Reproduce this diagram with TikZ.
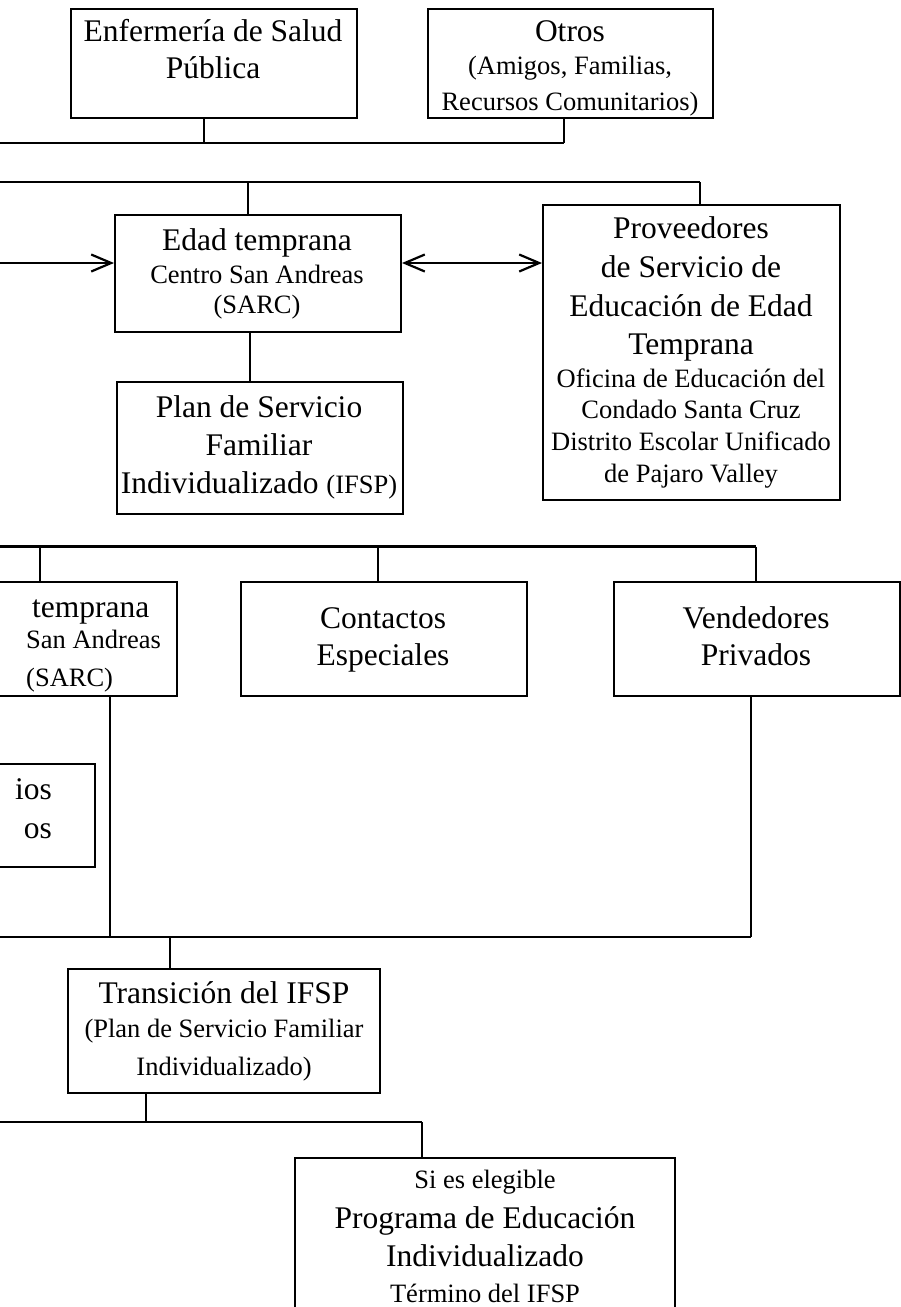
\documentclass[tikz,border=0pt]{standalone}
\usepackage{fontspec}
\setmainfont{Liberation Serif}
\usetikzlibrary{arrows.meta}
\newcommand\fsbig{\fontsize{31.5}{38}\selectfont}
\newcommand\fssmall{\fontsize{26.5}{32}\selectfont}
\tikzset{
  box/.style={draw, line width=2pt, inner sep=0pt},
  conn/.style={line width=2.2pt},
  arr/.style={conn, -{Straight Barb[length=20pt,width=17pt]}},
  darr/.style={conn, {Straight Barb[length=20pt,width=17pt]}-{Straight Barb[length=20pt,width=17pt]}},
  bt/.style={inner sep=0pt, anchor=base, font=\fsbig},
  st/.style={inner sep=0pt, anchor=base, font=\fssmall},
}
\begin{document}
\begin{tikzpicture}[x=1pt, y=-1pt]
\useasboundingbox (0,0) rectangle (901,1307);
\clip (0,0) rectangle (901,1307);

% boxes
\node[box, minimum width=286pt, minimum height=109pt] (enf) at (214,63.5) {};
\node[box, minimum width=285pt, minimum height=109pt] (otros) at (570.5,63.5) {};
\node[box, minimum width=286pt, minimum height=117pt] (edad) at (258,273.5) {};
\node[box, minimum width=297pt, minimum height=295pt] (prov) at (691.5,352.5) {};
\node[box, minimum width=286pt, minimum height=132pt] (plan) at (260,448) {};
\node[box, minimum width=286pt, minimum height=114pt] (sarc) at (34,639) {};
\node[box, minimum width=286pt, minimum height=114pt] (cont) at (384,639) {};
\node[box, minimum width=286pt, minimum height=114pt] (vend) at (757,639) {};
\node[box, minimum width=286pt, minimum height=103pt] (serv) at (-48,815.5) {};
\node[box, minimum width=312pt, minimum height=124pt] (trans) at (224,1031) {};
\node[box, minimum width=380pt, minimum height=180pt] (prog) at (485,1248) {};

% texts
\node[bt] (enf1) at (213,41) {Enfermería de Salud};
\node[bt] (enf2) at (213,78) {Pública};
\node[bt] (otr1) at (570,41) {Otros};
\node[st] (otr2) at (570,74) {(Amigos, Familias,};
\node[st] (otr3) at (570,110) {Recursos Comunitarios)};
\node[bt] (eda1) at (257,250) {Edad temprana};
\node[st] (eda2) at (257,283) {Centro San Andreas};
\node[st] (eda3) at (257,313) {(SARC)};
\node[bt] (pro1) at (691,238) {Proveedores};
\node[bt] (pro2) at (691,277) {de Servicio de};
\node[bt] (pro3) at (691,316) {Educación de Edad};
\node[bt] (pro4) at (691,354) {Temprana};
\node[st] (pro5) at (691,387) {Oficina de Educación del};
\node[st] (pro6) at (691,418) {Condado Santa Cruz};
\node[st] (pro7) at (691,450) {Distrito Escolar Unificado};
\node[st] (pro8) at (691,482) {de Pajaro Valley};
\node[bt] (pla1) at (259,417) {Plan de Servicio};
\node[bt] (pla2) at (259,455) {Familiar};
\node[bt] (pla3) at (259,493) {Individualizado {\fssmall(IFSP)}};
\node[bt, anchor=base west] (sar1) at (32,617) {temprana};
\node[st, anchor=base west] (sar2) at (26,648) {San Andreas};
\node[st, anchor=base west] (sar3) at (26,686) {(SARC)};
\node[bt] (con1) at (383,628) {Contactos};
\node[bt] (con2) at (383,665) {Especiales};
\node[bt] (ven1) at (756,628) {Vendedores};
\node[bt] (ven2) at (756,665) {Privados};
\node[bt, anchor=base east] (ser1) at (52,799) {ios};
\node[bt, anchor=base east] (ser2) at (52,838) {os};
\node[bt] (tra1) at (224,1003) {Transición del IFSP};
\node[st] (tra2) at (224,1037) {(Plan de Servicio Familiar};
\node[st] (tra3) at (224,1075) {Individualizado)};
\node[st] (prg1) at (485,1188) {Si es elegible};
\node[bt] (prg2) at (485,1228) {Programa de Educación};
\node[bt] (prg3) at (485,1266) {Individualizado};
\node[st] (prg4) at (485,1302) {Término del IFSP};

% junction coordinates
\coordinate (b1l) at (0,143);
\coordinate (b1a) at (204,143);
\coordinate (b1b) at (564,143);
\coordinate (b2l) at (0,182);
\coordinate (b2a) at (248,182);
\coordinate (b2b) at (700,182);
\coordinate (a1) at (0,263);
\coordinate (ep) at (250,0);
\coordinate (b3l) at (0,546.5);
\coordinate (b3a) at (40,546.5);
\coordinate (b3b) at (378,546.5);
\coordinate (b3c) at (756,546.5);
\coordinate (b4l) at (0,937);
\coordinate (b4a) at (110,937);
\coordinate (b4b) at (170,937);
\coordinate (b4c) at (751,937);
\coordinate (b5l) at (0,1122);
\coordinate (b5a) at (146,1122);
\coordinate (b5b) at (422,1122);

% bus 1
\draw[conn] (b1l) -- (b1b);
\draw[conn] (b1a |- enf.south) -- (b1a);
\draw[conn] (b1b |- otros.south) -- (b1b);
% bus 2
\draw[conn] (b2l) -- (b2b);
\draw[conn] (b2a) -- (b2a |- edad.north);
\draw[conn] (b2b) -- (b2b |- prov.north);
% arrows
\draw[arr] (a1) -- (a1 -| edad.west);
\draw[darr] (a1 -| edad.east) -- (a1 -| prov.west);
% edad to plan
\draw[conn] (ep |- edad.south) -- (ep |- plan.north);
% bus 3
\draw[conn] (b3l) -- (b3c);
\draw[conn] (b3a) -- (b3a |- sarc.north);
\draw[conn] (b3b) -- (b3b |- cont.north);
\draw[conn] (b3c) -- (b3c |- vend.north);
% bus 4
\draw[conn] (b4l) -- (b4c);
\draw[conn] (b4a |- sarc.south) -- (b4a);
\draw[conn] (b4c |- vend.south) -- (b4c);
\draw[conn] (b4b) -- (b4b |- trans.north);
% bus 5
\draw[conn] (b5l) -- (b5b);
\draw[conn] (b5a |- trans.south) -- (b5a);
\draw[conn] (b5b) -- (b5b |- prog.north);
\end{tikzpicture}
\end{document}
